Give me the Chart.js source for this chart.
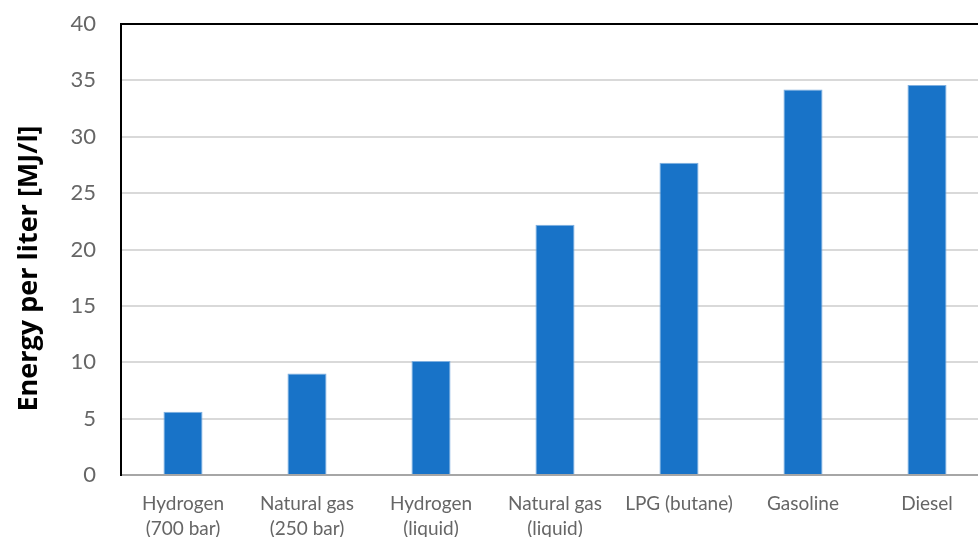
<!DOCTYPE html>
<html>
<head>
<meta charset="utf-8">
<script src="https://cdn.jsdelivr.net/npm/chart.js@4"></script>
<style>
  html, body { margin: 0; padding: 0; background: #ffffff; overflow: hidden; }
  #wrap { position: relative; width: 995px; height: 537px; }
</style>
</head>
<body>
<div id="wrap"><canvas id="chart"></canvas></div>
<script>
// Fuel categories (multi-line axis labels)
const fuels = [
  ['Hydrogen', '(700 bar)'],
  ['Natural gas', '(250 bar)'],
  ['Hydrogen', '(liquid)'],
  ['Natural gas', '(liquid)'],
  'LPG (butane)',
  'Gasoline',
  'Diesel'
];
// Volumetric energy density, MJ per liter
const energyPerLiter = [5.6, 9.0, 10.1, 22.2, 27.7, 34.2, 34.6];
// Value axis
const yMin = 0;
const yMax = 40;
const yStep = 5;
const yTitle = 'Energy per liter [MJ/l]';

// Rotated y-axis title drawn beside the plot area
const yTitlePlugin = {
  id: 'yTitle',
  afterDraw(chart) {
    const { ctx, chartArea } = chart;
    ctx.save();
    ctx.translate(29, (chartArea.top + chartArea.bottom) / 2 + 19);
    ctx.rotate(-Math.PI / 2);
    ctx.font = 'bold 27px "Open Sans"';
    ctx.fillStyle = '#000000';
    ctx.textAlign = 'center';
    ctx.textBaseline = 'middle';
    ctx.fillText(yTitle, 0, 0);
    ctx.restore();
  }
};

new Chart(document.getElementById('chart'), {
  type: 'bar',
  data: {
    labels: fuels,
    datasets: [{
      data: energyPerLiter,
      backgroundColor: '#1873C8',
      borderColor: '#7FB0E0',
      borderWidth: 1,
      categoryPercentage: 1,
      barPercentage: 0.315
    }]
  },
  options: {
    responsive: true,
    maintainAspectRatio: false,
    animation: false,
    devicePixelRatio: 1,
    layout: { padding: { top: 24, right: 6, left: 0, bottom: 0 } },
    plugins: {
      legend: { display: false },
      tooltip: { enabled: false }
    },
    scales: {
      x: {
        offset: true,
        grid: { display: false, drawTicks: false },
        border: { display: true, color: '#A6A6A6', width: 2 },
        ticks: {
          color: '#666666',
          font: { family: 'Lato', size: 19, lineHeight: 1.3 },
          padding: 17,
          maxRotation: 0,
          autoSkip: false
        },
        afterFit(scale) { scale.height = 62; }
      },
      y: {
        min: yMin,
        max: yMax,
        grid: {
          drawTicks: false,
          color: (c) => c.tick && c.tick.value === yMax ? '#000000'
                      : (c.tick && c.tick.value === yMin ? 'rgba(0,0,0,0)' : '#D9D9D9'),
          lineWidth: 2
        },
        border: { display: true, color: '#000000', width: 2 },
        ticks: {
          stepSize: yStep,
          color: '#666666',
          font: { family: 'Lato', size: 22 },
          padding: 25
        },
        afterFit(scale) {
          scale.width = 121;
          scale.paddingTop = 14;
          scale.paddingBottom = 0;
        }
      }
    }
  },
  plugins: [yTitlePlugin]
});
</script>
</body>
</html>
